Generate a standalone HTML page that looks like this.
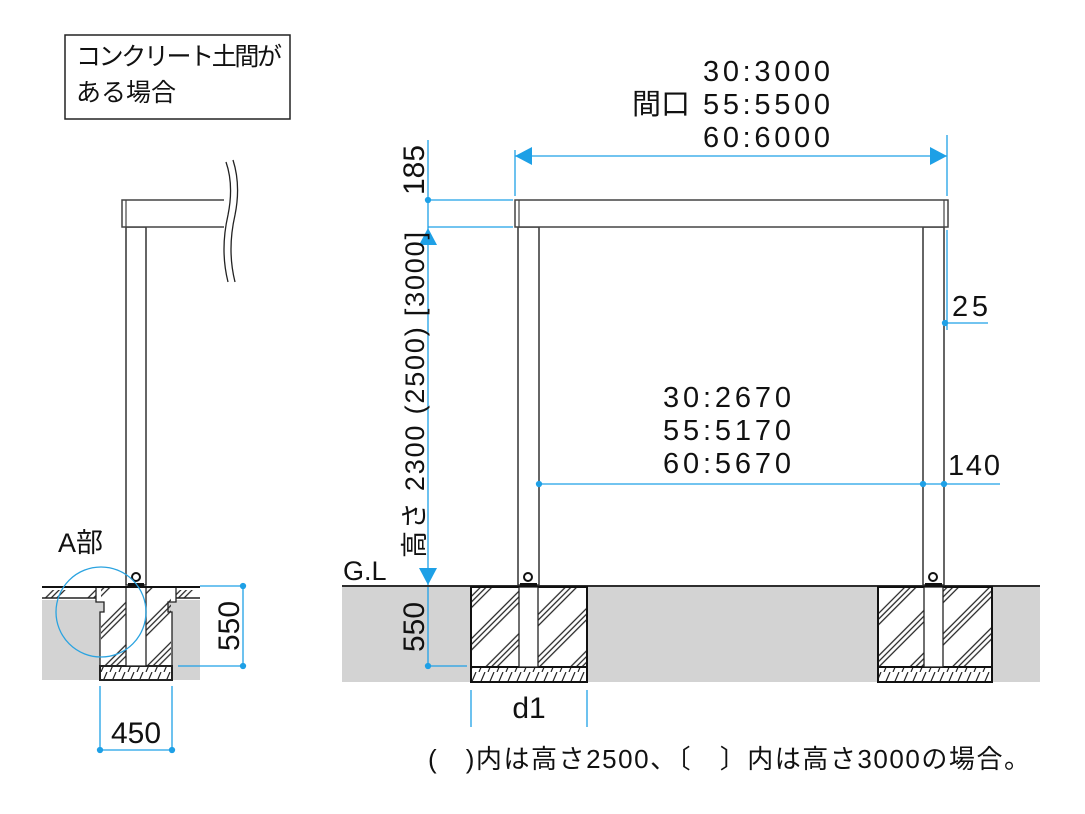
<!DOCTYPE html>
<html><head><meta charset="utf-8"><style>
html,body{margin:0;padding:0;background:#fff;}
svg{display:block;}
text{font-family:"Liberation Sans","Noto Sans CJK JP",sans-serif;fill:#111;}
</style></head><body>
<svg width="1085" height="814" viewBox="0 0 1085 814" xmlns="http://www.w3.org/2000/svg">
<defs>
<pattern id="h" patternUnits="userSpaceOnUse" width="40" height="30" patternTransform="rotate(-45)">
<line x1="0" y1="5" x2="40" y2="5" stroke="#222" stroke-width="1.3"/>
<line x1="0" y1="9" x2="40" y2="9" stroke="#222" stroke-width="1.3"/>
<line x1="0" y1="13" x2="40" y2="13" stroke="#222" stroke-width="1.3"/>
</pattern>
<pattern id="g" patternUnits="userSpaceOnUse" width="9" height="14">
<path d="M2 14 Q5 7 8 0" stroke="#222" stroke-width="1.2" fill="none"/>
</pattern>
</defs>

<rect x="65" y="35" width="225" height="84" fill="#fff" stroke="#222" stroke-width="1.5"/>
<text x="76" y="65" font-size="25" textLength="206">コンクリート土間が</text>
<text x="76" y="101" font-size="25">ある場合</text>

<!-- LEFT -->
<rect x="42" y="600" width="158" height="80" fill="#d3d3d3"/>
<rect x="42" y="590" width="58" height="8" fill="url(#h)"/>
<rect x="172" y="590" width="28" height="8" fill="url(#h)"/>
<line x1="42" y1="598" x2="96" y2="598" stroke="#222" stroke-width="1.5"/>
<line x1="176" y1="598" x2="200" y2="598" stroke="#222" stroke-width="1.5"/>
<path d="M96 587 V602 H104 V612 H100 V680 H172 V612 H168 V602 H176 V587" fill="#fff" stroke="#222" stroke-width="1.3"/>
<rect x="101" y="588" width="70" height="78" fill="url(#h)"/>
<rect x="100" y="666" width="72" height="14" fill="url(#g)" stroke="#222" stroke-width="2"/>
<rect x="126" y="587" width="20" height="79" fill="#fff" stroke="#222" stroke-width="1.3"/>
<line x1="42" y1="587" x2="200" y2="587" stroke="#111" stroke-width="2"/>
<rect x="126" y="227" width="20" height="358" fill="#fff" stroke="#333" stroke-width="1.5"/>
<rect x="128" y="583" width="16" height="4" fill="#111"/>
<circle cx="136" cy="577" r="4" fill="none" stroke="#111" stroke-width="2"/>
<rect x="122" y="200" width="108" height="27" fill="#fff" stroke="#444" stroke-width="1.5"/>
<line x1="126" y1="200" x2="126" y2="227" stroke="#444" stroke-width="1.2"/>
<rect x="224" y="160" width="16" height="120" fill="#fff"/>
<path d="M226 162 Q234 185 228 215 Q220 250 228 282" fill="none" stroke="#222" stroke-width="1.3"/>
<path d="M233 160 Q241 185 235 215 Q227 250 235 282" fill="none" stroke="#222" stroke-width="1.3"/>
<circle cx="101" cy="612" r="45" fill="none" stroke="#2aa3e0" stroke-width="1.3"/>
<text x="58" y="552" font-size="27">A部</text>
<g stroke="#1ea0e6" stroke-width="1.3" fill="#1ea0e6">
<line x1="200" y1="586" x2="245" y2="586"/>
<line x1="178" y1="666" x2="245" y2="666"/>
<line x1="243" y1="586" x2="243" y2="666"/>
<circle cx="243" cy="586" r="2.5"/><circle cx="243" cy="666" r="2.5"/>
<line x1="100" y1="686" x2="100" y2="752"/>
<line x1="172" y1="686" x2="172" y2="752"/>
<line x1="100" y1="750" x2="172" y2="750"/>
<circle cx="100" cy="750" r="2.5"/><circle cx="172" cy="750" r="2.5"/>
</g>
<text transform="translate(239,626) rotate(-90)" font-size="30" text-anchor="middle">550</text>
<text x="136" y="743" font-size="30" text-anchor="middle">450</text>

<!-- RIGHT -->
<rect x="342" y="587" width="698" height="95" fill="#d3d3d3"/>
<g>
<rect x="471" y="587" width="116" height="95" fill="#fff"/>
<rect x="472" y="588" width="114" height="79" fill="url(#h)"/>
<rect x="471" y="667" width="116" height="15" fill="url(#g)" stroke="#111" stroke-width="2"/>
<rect x="471" y="587" width="116" height="95" fill="none" stroke="#111" stroke-width="2"/>
<rect x="519" y="587" width="19" height="80" fill="#fff" stroke="#222" stroke-width="1.3"/>
</g>
<g>
<rect x="878" y="587" width="114" height="95" fill="#fff"/>
<rect x="879" y="588" width="112" height="79" fill="url(#h)"/>
<rect x="878" y="667" width="114" height="15" fill="url(#g)" stroke="#111" stroke-width="2"/>
<rect x="878" y="587" width="114" height="95" fill="none" stroke="#111" stroke-width="2"/>
<rect x="924" y="587" width="19" height="80" fill="#fff" stroke="#222" stroke-width="1.3"/>
</g>
<line x1="342" y1="586" x2="1040" y2="586" stroke="#111" stroke-width="1.8"/>
<rect x="518" y="227" width="21" height="358" fill="#fff" stroke="#333" stroke-width="1.5"/>
<rect x="923" y="227" width="21" height="358" fill="#fff" stroke="#333" stroke-width="1.5"/>
<rect x="520" y="583" width="17" height="4" fill="#111"/>
<rect x="925" y="583" width="17" height="4" fill="#111"/>
<circle cx="528" cy="577" r="4" fill="none" stroke="#111" stroke-width="2"/>
<circle cx="933" cy="577" r="4" fill="none" stroke="#111" stroke-width="2"/>
<rect x="515" y="200" width="433" height="27" fill="#fff" stroke="#444" stroke-width="1.5"/>
<line x1="519" y1="200" x2="519" y2="227" stroke="#444" stroke-width="1.2"/>
<line x1="944" y1="200" x2="944" y2="227" stroke="#444" stroke-width="1.2"/>

<g stroke="#1ea0e6" stroke-width="1.3" fill="#1ea0e6">
<line x1="428" y1="140" x2="428" y2="585"/>
<line x1="428" y1="200" x2="513" y2="200"/>
<line x1="428" y1="227" x2="513" y2="227"/>
<circle cx="428" cy="200" r="2.5"/>
<polygon points="428,228 419,245 437,245" stroke="none"/>
<polygon points="428,585 419,568 437,568" stroke="none"/>
<line x1="428" y1="587" x2="428" y2="666"/>
<line x1="428" y1="666" x2="467" y2="666"/>
<circle cx="428" cy="666" r="2.5"/>
<line x1="515" y1="150" x2="515" y2="196"/>
<line x1="947" y1="135" x2="947" y2="196"/>
<line x1="515" y1="156" x2="947" y2="156"/>
<polygon points="515,156 532,147 532,165" stroke="none"/>
<polygon points="947,156 930,147 930,165" stroke="none"/>
<line x1="947" y1="230" x2="947" y2="330"/>
<line x1="944" y1="323" x2="988" y2="323"/>
<circle cx="945" cy="323" r="2.5"/>
<line x1="539" y1="484" x2="1000" y2="484"/>
<circle cx="539" cy="484" r="2.5"/><circle cx="923" cy="484" r="2.5"/><circle cx="944" cy="484" r="2.5"/>
<line x1="471" y1="690" x2="471" y2="727"/>
<line x1="587" y1="690" x2="587" y2="727"/>
</g>
<text transform="translate(424,170) rotate(-90)" font-size="30" text-anchor="middle">185</text>
<text transform="translate(424,395) rotate(-90)" font-size="27" text-anchor="middle" textLength="326">高さ 2300 (2500) [3000]</text>
<text transform="translate(424,627) rotate(-90)" font-size="30" text-anchor="middle">550</text>
<text x="343" y="580" font-size="27">G.L</text>
<text x="703" y="81" font-size="29" textLength="127">30:3000</text>
<text x="632" y="114" font-size="29">間口</text>
<text x="703" y="114" font-size="29" textLength="127">55:5500</text>
<text x="703" y="147" font-size="29" textLength="127">60:6000</text>
<text x="952" y="316" font-size="29" textLength="36">25</text>
<text x="663" y="407" font-size="29" textLength="128">30:2670</text>
<text x="663" y="440" font-size="29" textLength="128">55:5170</text>
<text x="663" y="473" font-size="29" textLength="128">60:5670</text>
<text x="948" y="475" font-size="29" textLength="52">140</text>
<text x="529" y="718" font-size="30" text-anchor="middle">d1</text>
<text x="428" y="768" font-size="26" textLength="602">(　)内は高さ2500、〔　〕内は高さ3000の場合。</text>
</svg>
</body></html>
